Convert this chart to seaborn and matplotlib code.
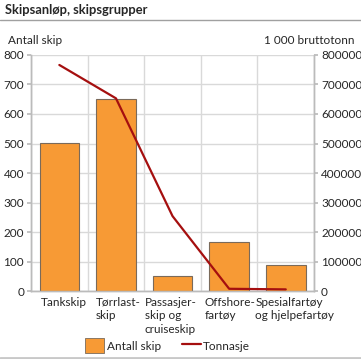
import numpy as np
import pandas as pd
import seaborn as sns
import matplotlib.pyplot as plt
import matplotlib.transforms as mtransforms
from matplotlib.lines import Line2D

categories = ["Tankskip", "Tørrlast-\nskip", "Passasjer-\nskip og\ncruiseskip",
              "Offshore-\nfartøy", "Spesialfartøy\nog hjelpefartøy"]
antall_skip = [503, 650, 51, 165, 88]
tonnasje = [766000, 653000, 254000, 8000, 6000]

df = pd.DataFrame({"kategori": categories, "antall": antall_skip, "tonnasje": tonnasje})

sns.set_theme(style="white")
plt.rcParams['font.family'] = ['Lato', 'DejaVu Sans']

bar_color = "#F79A35"
line_color = "#A50F0F"
grid_color = "#D9D9D9"
fs = 8.5

fig = plt.figure(figsize=(3.61, 3.59), dpi=100)
ax = fig.add_axes([0.086, 0.189, 0.784, 0.658])

sns.barplot(data=df, x="kategori", y="antall", color=bar_color, width=0.7,
            edgecolor="#7A6A5A", linewidth=0.8, saturation=1, ax=ax, zorder=3)
ax.set_xlim(-0.5, 4.5)
ax.set_ylim(0, 800)
ax.set_yticks(np.arange(0, 801, 100))
ax.set_xticks(np.arange(-0.5, 5, 1), minor=True)
ax.grid(True, axis="y", color=grid_color, linewidth=1, zorder=0)
ax.grid(True, axis="x", which="minor", color=grid_color, linewidth=1, zorder=0)
ax.set_axisbelow(True)
ax.set_xlabel("")
ax.set_ylabel("")
ax.tick_params(axis="x", which="both", length=0, labelsize=fs, pad=4)
ax.tick_params(axis="y", length=3, color="#BBBBBB", labelsize=fs, pad=2, left=True)

# label shifts (pixels) so the wrapped labels sit like in the original
shifts = [5, 2.5, -2, 1, 9]
for lbl, dx in zip(ax.get_xticklabels(), shifts):
    lbl.set_multialignment("left")
    lbl.set_linespacing(1.3)
    lbl.set_transform(lbl.get_transform() + mtransforms.ScaledTranslation(dx / 100, 0, fig.dpi_scale_trans))

ax2 = ax.twinx()
ax2.plot(range(len(categories)), df["tonnasje"], color=line_color, linewidth=1.6, zorder=4)
ax2.set_ylim(0, 800000)
ax2.set_yticks(np.arange(0, 800001, 100000))
ax2.set_yticklabels([str(v) for v in range(0, 800001, 100000)])
ax2.tick_params(axis="y", length=3, color="#BBBBBB", labelsize=fs, pad=2, right=True)
ax2.grid(False)

for a in (ax, ax2):
    a.spines["top"].set_visible(False)
    for s in ("left", "right", "bottom"):
        a.spines[s].set_color("#BBBBBB")
        a.spines[s].set_linewidth(1)

fig.text(0.014, 0.972, "Skipsanløp, skipsgrupper", fontsize=9.3, fontweight="bold", va="center")
fig.add_artist(Line2D([0, 1], [0.943, 0.943], color="#A0A0A0", linewidth=1))
fig.add_artist(Line2D([0, 1], [0.004, 0.004], color="#C8C8C8", linewidth=2))
fig.text(0.022, 0.886, "Antall skip", fontsize=fs, va="center")
fig.text(0.983, 0.886, "1 000 bruttotonn", fontsize=fs, va="center", ha="right")

handles = [plt.Rectangle((0, 0), 1, 1, facecolor=bar_color, edgecolor="#7A6A5A", linewidth=0.6),
           Line2D([0], [0], color=line_color, linewidth=1.6)]
fig.legend(handles, ["Antall skip", "Tonnasje"], loc="center", bbox_to_anchor=(0.465, 0.037),
           ncol=2, frameon=False, fontsize=fs, handlelength=1.6, handleheight=1.6,
           handletextpad=0.2, columnspacing=1.8)

fig.savefig("out.png", dpi=100)
